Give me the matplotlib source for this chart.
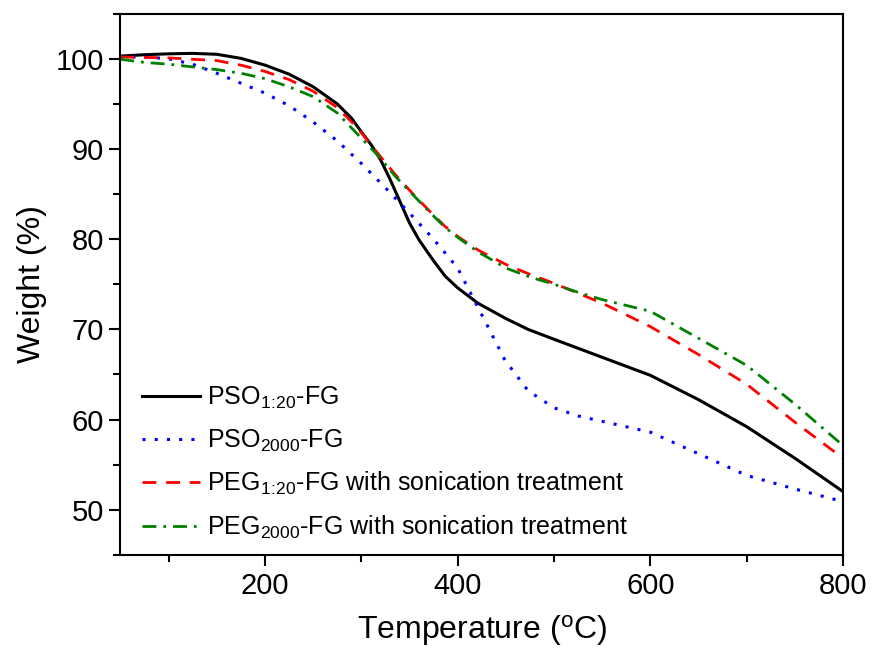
import matplotlib
matplotlib.use("Agg")
import matplotlib.pyplot as plt
from matplotlib.ticker import MultipleLocator

plt.rcParams['font.family'] = ['Liberation Sans', 'DejaVu Sans']
plt.rcParams['mathtext.fontset'] = 'custom'
plt.rcParams['mathtext.rm'] = 'Liberation Sans'
plt.rcParams['mathtext.it'] = 'Liberation Sans'

# TGA curves (temperature in C, weight in %)
t_pso120 = [50, 75, 100, 125, 150, 175, 200, 225, 250, 275, 290, 300, 310, 320, 330, 340,
            350, 360, 375, 387, 400, 421, 450, 473, 500, 525, 550, 600, 650, 700, 750, 800]
w_pso120 = [100.3, 100.45, 100.55, 100.6, 100.5, 100.05, 99.3, 98.3, 96.9, 95.0, 93.4, 91.9,
            90.5, 88.8, 86.6, 84.2, 81.8, 79.9, 77.6, 75.9, 74.6, 72.9, 71.2, 70.0, 68.9,
            67.9, 66.9, 64.9, 62.2, 59.2, 55.7, 52.0]

t_pso2000 = [50, 75, 100, 125, 150, 175, 200, 225, 250, 275, 300, 325, 350, 375, 400, 411,
             428, 449, 473, 500, 525, 550, 600, 650, 700, 750, 800]
w_pso2000 = [100.2, 100.2, 100.0, 99.4, 98.4, 97.3, 96.2, 94.8, 93.0, 90.9, 88.4, 85.7, 82.9,
             80.0, 76.8, 74.5, 71.0, 66.6, 63.2, 61.3, 60.4, 59.8, 58.6, 56.2, 53.8, 52.3, 50.9]

t_peg120 = [50, 100, 150, 175, 200, 225, 250, 275, 290, 300, 318, 335, 352, 370, 387, 400,
            421, 450, 475, 500, 525, 550, 600, 650, 700, 750, 800]
w_peg120 = [100.2, 100.1, 99.8, 99.3, 98.6, 97.7, 96.4, 94.6, 93.0, 91.8, 89.4, 87.2, 85.2,
            83.2, 81.4, 80.3, 78.8, 77.2, 76.1, 75.1, 74.0, 72.9, 70.3, 67.2, 63.9, 59.7, 55.7]

t_peg2000 = [50, 75, 100, 125, 150, 175, 200, 225, 250, 275, 300, 318, 335, 352, 370, 387,
             400, 421, 450, 475, 500, 528, 550, 600, 650, 700, 750, 800]
w_peg2000 = [99.95, 99.6, 99.4, 99.1, 98.8, 98.4, 97.8, 96.9, 95.8, 94.0, 91.2, 89.2, 87.0,
             85.1, 83.1, 81.3, 80.2, 78.6, 76.8, 75.8, 75.0, 74.0, 73.3, 72.0, 69.0, 66.0,
             61.7, 57.1]

labels = [r'PSO$_{\mathrm{1\!:\!20}}$-FG',
          r'PSO$_{\mathrm{2000}}$-FG',
          r'PEG$_{\mathrm{1\!:\!20}}$-FG with sonication treatment',
          r'PEG$_{\mathrm{2000}}$-FG with sonication treatment']

fig = plt.figure(figsize=(8.72, 6.52), dpi=100)
ax = fig.add_axes([0.138, 0.149, 0.829, 0.830])

ax.plot(t_pso120, w_pso120, color='black', lw=2.2, ls='-', label=labels[0])
ax.plot(t_pso2000, w_pso2000, color='#0000ff', lw=2.2, ls=(0, (1, 3)), label=labels[1])
ax.plot(t_peg120, w_peg120, color='#ff0000', lw=2.0, ls=(0, (5, 3.5)), label=labels[2])
ax.plot(t_peg2000, w_peg2000, color='#008000', lw=2.0, ls=(0, (5, 2.5, 1, 2.5)), label=labels[3])

ax.set_xlim(50, 800)
ax.set_ylim(45, 105)
ax.xaxis.set_major_locator(MultipleLocator(200))
ax.xaxis.set_minor_locator(MultipleLocator(100))
ax.yaxis.set_major_locator(MultipleLocator(10))
ax.yaxis.set_minor_locator(MultipleLocator(5))

for s in ax.spines.values():
    s.set_linewidth(1.5)
ax.tick_params(which='major', direction='out', length=8, width=1.5, labelsize=21, pad=4)
ax.tick_params(which='minor', direction='out', length=5, width=1.5)
ax.tick_params(which='both', top=False, right=False)

ax.set_xlabel(r'Temperature ($^{\mathrm{o}}$C)', fontsize=23, labelpad=10)
ax.set_ylabel('Weight (%)', fontsize=23, labelpad=6)

ax.legend(loc='lower left', bbox_to_anchor=(0.011, 0.0), frameon=False, fontsize=18,
          handlelength=2.3, handletextpad=0.3, labelspacing=0.66, borderaxespad=0.15)

fig.savefig('out.png', dpi=100)
